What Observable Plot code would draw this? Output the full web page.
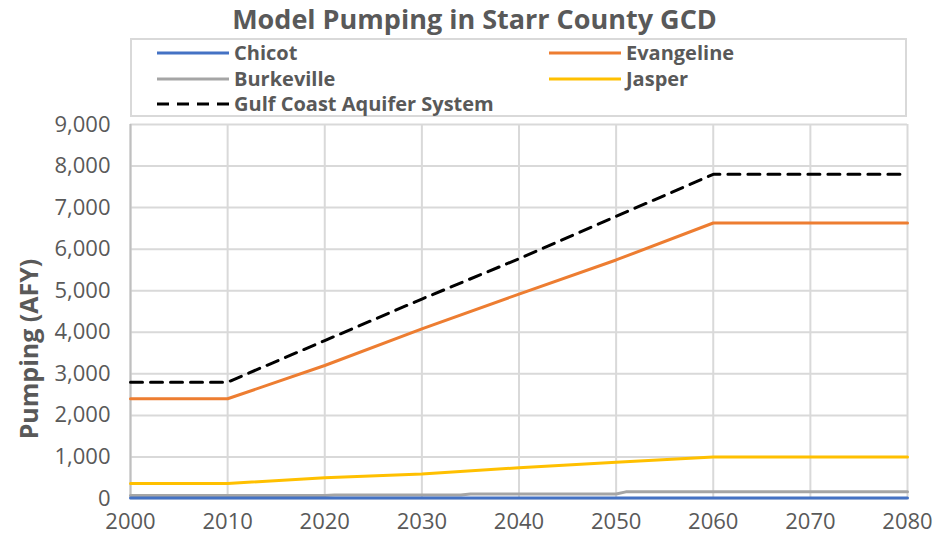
<!DOCTYPE html>
<html>
<head>
<meta charset="utf-8">
<script src="https://cdn.jsdelivr.net/npm/d3@7"></script>
<script src="https://cdn.jsdelivr.net/npm/@observablehq/plot@0.6"></script>
<style>
  html, body { margin: 0; padding: 0; background: #fff; }
  #wrap { position: relative; width: 949px; height: 543px; font-family: "Open Sans", sans-serif; }
  #title { position: absolute; left: 0; top: 1px; width: 949px; text-align: center; font-size: 27px; font-weight: 700; color: #595959; line-height: 36px; }
  #legend { position: absolute; left: 130px; top: 38px; width: 777px; height: 79px; border: 2px solid #d9d9d9; box-sizing: border-box; }
  .item { position: absolute; display: flex; align-items: center; font-size: 20px; font-weight: 700; color: #595959; white-space: nowrap; line-height: 22px; }
  .item svg { margin-right: 5px; }
  #ylabel { position: absolute; left: 28px; top: 349px; transform: translate(-50%, -50%) rotate(-90deg); font-size: 25px; font-weight: 700; color: #595959; white-space: nowrap; line-height: 30px; }
  #plot { position: absolute; left: 0; top: 0; }
</style>
</head>
<body>
<div id="wrap">
  <div id="plot"></div>
  <div id="title">Model Pumping in Starr County GCD</div>
  <div id="legend"></div>
  <div id="ylabel">Pumping (AFY)</div>
</div>
<script>
const years = [2000, 2010, 2020, 2030, 2040, 2050, 2060, 2070, 2080];
const chicot = [10, 10, 10, 10, 10, 10, 10, 10, 10];
const evangeline = [2400, 2400, 3200, 4080, 4920, 5740, 6630, 6630, 6630];
const jasper = [360, 360, 500, 590, 740, 870, 1000, 1000, 1000];
const gulf = [2800, 2800, 3800, 4800, 5770, 6790, 7800, 7800, 7800];
const burkevilleYears = [2000, 2020, 2021, 2034, 2035, 2050, 2051, 2080];
const burkeville = [70, 70, 85, 85, 110, 110, 160, 160];

const seriesNames = ["Chicot", "Evangeline", "Burkeville", "Jasper", "Gulf Coast Aquifer System"];
const seriesColors = ["#4472C4", "#ED7D31", "#A5A5A5", "#FFC000", "#000000"];
const xTicks = [2000, 2010, 2020, 2030, 2040, 2050, 2060, 2070, 2080];
const yTicks = [0, 1000, 2000, 3000, 4000, 5000, 6000, 7000, 8000, 9000];

const rows = (ys, vs, name) => ys.map((y, i) => ({year: y, value: vs[i], series: name}));
const dChicot = rows(years, chicot, "Chicot");
const dEvang = rows(years, evangeline, "Evangeline");
const dBurk = rows(burkevilleYears, burkeville, "Burkeville");
const dJasper = rows(years, jasper, "Jasper");
const dGulf = rows(years, gulf, "Gulf Coast Aquifer System");

const chart = Plot.plot({
  width: 949,
  height: 543,
  marginTop: 124,
  marginRight: 42,
  marginBottom: 45,
  marginLeft: 130,
  style: { fontFamily: "Open Sans, sans-serif", fontSize: "22px", color: "#595959", background: "transparent" },
  x: { domain: [2000, 2080], label: null },
  y: { domain: [0, 9000], label: null },
  marks: [
    Plot.gridX(xTicks, { stroke: "#d9d9d9", strokeOpacity: 1, strokeWidth: 2 }),
    Plot.gridY(yTicks, { stroke: "#d9d9d9", strokeOpacity: 1, strokeWidth: 2 }),
    Plot.ruleX([2000], { stroke: "#bfbfbf", strokeWidth: 2 }),
    Plot.axisX({ ticks: xTicks, tickFormat: d => String(d), tickSize: 0, tickPadding: 15, fill: "#595959", fontSize: 22, label: null }),
    Plot.axisY({ ticks: yTicks, tickFormat: d3.format(","), tickSize: 0, tickPadding: 20, fill: "#595959", fontSize: 22, label: null }),
    Plot.lineY(dBurk, { x: "year", y: "value", stroke: seriesColors[2], strokeWidth: 3 }),
    Plot.lineY(dChicot, { x: "year", y: "value", stroke: seriesColors[0], strokeWidth: 3 }),
    Plot.lineY(dJasper, { x: "year", y: "value", stroke: seriesColors[3], strokeWidth: 3 }),
    Plot.lineY(dEvang, { x: "year", y: "value", stroke: seriesColors[1], strokeWidth: 3 }),
    Plot.lineY(dGulf, { x: "year", y: "value", stroke: seriesColors[4], strokeWidth: 3, strokeDasharray: "12,8" })
  ]
});
document.getElementById("plot").appendChild(chart);

// legend
const legend = document.getElementById("legend");
const positions = [[25, 2], [417, 2], [25, 28], [417, 28], [25, 53]];
seriesNames.forEach((name, i) => {
  const el = document.createElement("div");
  el.className = "item";
  el.style.left = positions[i][0] + "px";
  el.style.top = positions[i][1] + "px";
  const dash = i === 4 ? 'stroke-dasharray="12,8"' : '';
  el.innerHTML = `<svg width="72" height="6"><line x1="0" y1="3" x2="72" y2="3" stroke="${seriesColors[i]}" stroke-width="3" ${dash}/></svg><span>${name}</span>`;
  legend.appendChild(el);
});
</script>
</body>
</html>
